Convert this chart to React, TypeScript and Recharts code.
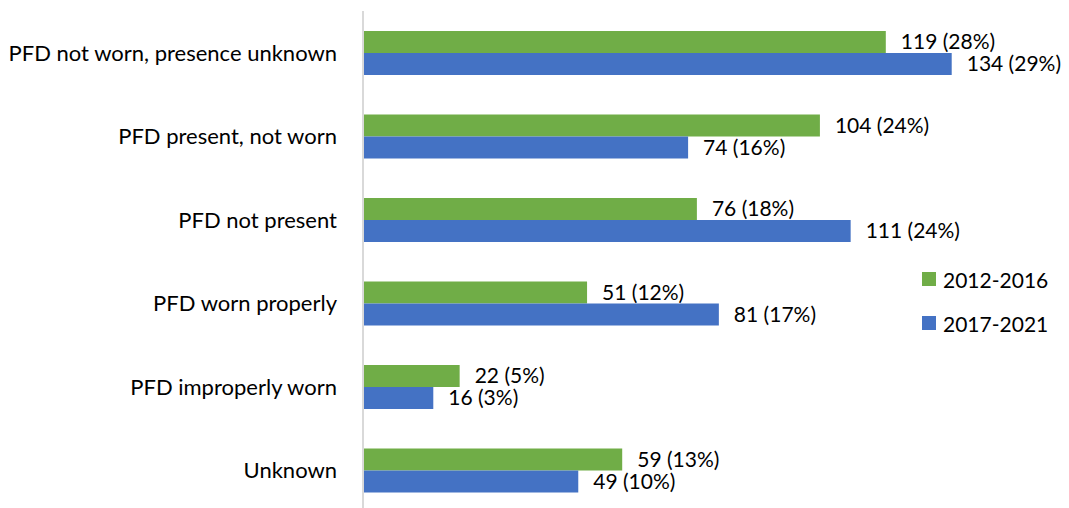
import { Bar, BarChart, LabelList, XAxis, YAxis } from "recharts"

const categories = [
  "PFD not worn, presence unknown",
  "PFD present, not worn",
  "PFD not present",
  "PFD worn properly",
  "PFD improperly worn",
  "Unknown",
]

const counts2012 = [119, 104, 76, 51, 22, 59]
const pct2012 = [28, 24, 18, 12, 5, 13]
const counts2017 = [134, 74, 111, 81, 16, 49]
const pct2017 = [29, 16, 24, 17, 3, 10]

const GREEN = "#70AD47"
const BLUE = "#4472C4"
const FONT = "Lato, 'Noto Sans', sans-serif"

const data = categories.map((name, i) => ({
  name,
  a: counts2012[i],
  b: counts2017[i],
}))

const seriesInfo = [
  { name: "2012-2016", color: GREEN },
  { name: "2017-2021", color: BLUE },
]

function LegendBox() {
  return (
    <div style={{ position: "absolute", left: 922, top: 257, fontFamily: FONT, fontSize: 21, color: "#000" }}>
      {seriesInfo.map((s) => (
        <div key={s.name} style={{ display: "flex", alignItems: "center", height: 44 }}>
          <span style={{ width: 14, height: 14, background: s.color, marginRight: 7, display: "inline-block" }} />
          <span>{s.name}</span>
        </div>
      ))}
    </div>
  )
}

export default function App() {
  return (
    <div style={{ position: "absolute", left: 0, top: 0, width: 1069, height: 508, overflow: "hidden", background: "#fff" }}>
      <BarChart
        width={1069}
        height={520}
        data={data}
        layout="vertical"
        margin={{ top: 11, right: 47, bottom: 8, left: 0 }}
        barGap={0}
      >
        <XAxis type="number" domain={[0, 150]} hide />
        <YAxis
          type="category"
          dataKey="name"
          width={363}
          axisLine={{ stroke: "#d9d9d9", strokeWidth: 2 }}
          tickLine={false}
          tickMargin={20}
          tick={{ fill: "#000", fontSize: 22, fontFamily: FONT }}
        />
        <Bar dataKey="a" name="2012-2016" fill={GREEN} barSize={22} isAnimationActive={false}>
          <LabelList
            dataKey="a"
            position="right"
            offset={15}
            formatter={(v: number) => `${v} (${pct2012[counts2012.indexOf(v)]}%)`}
            style={{ fill: "#000", fontSize: 21, fontFamily: FONT }}
          />
        </Bar>
        <Bar dataKey="b" name="2017-2021" fill={BLUE} barSize={22} isAnimationActive={false}>
          <LabelList
            dataKey="b"
            position="right"
            offset={15}
            formatter={(v: number) => `${v} (${pct2017[counts2017.indexOf(v)]}%)`}
            style={{ fill: "#000", fontSize: 21, fontFamily: FONT }}
          />
        </Bar>
      </BarChart>
      <LegendBox />
    </div>
  )
}
